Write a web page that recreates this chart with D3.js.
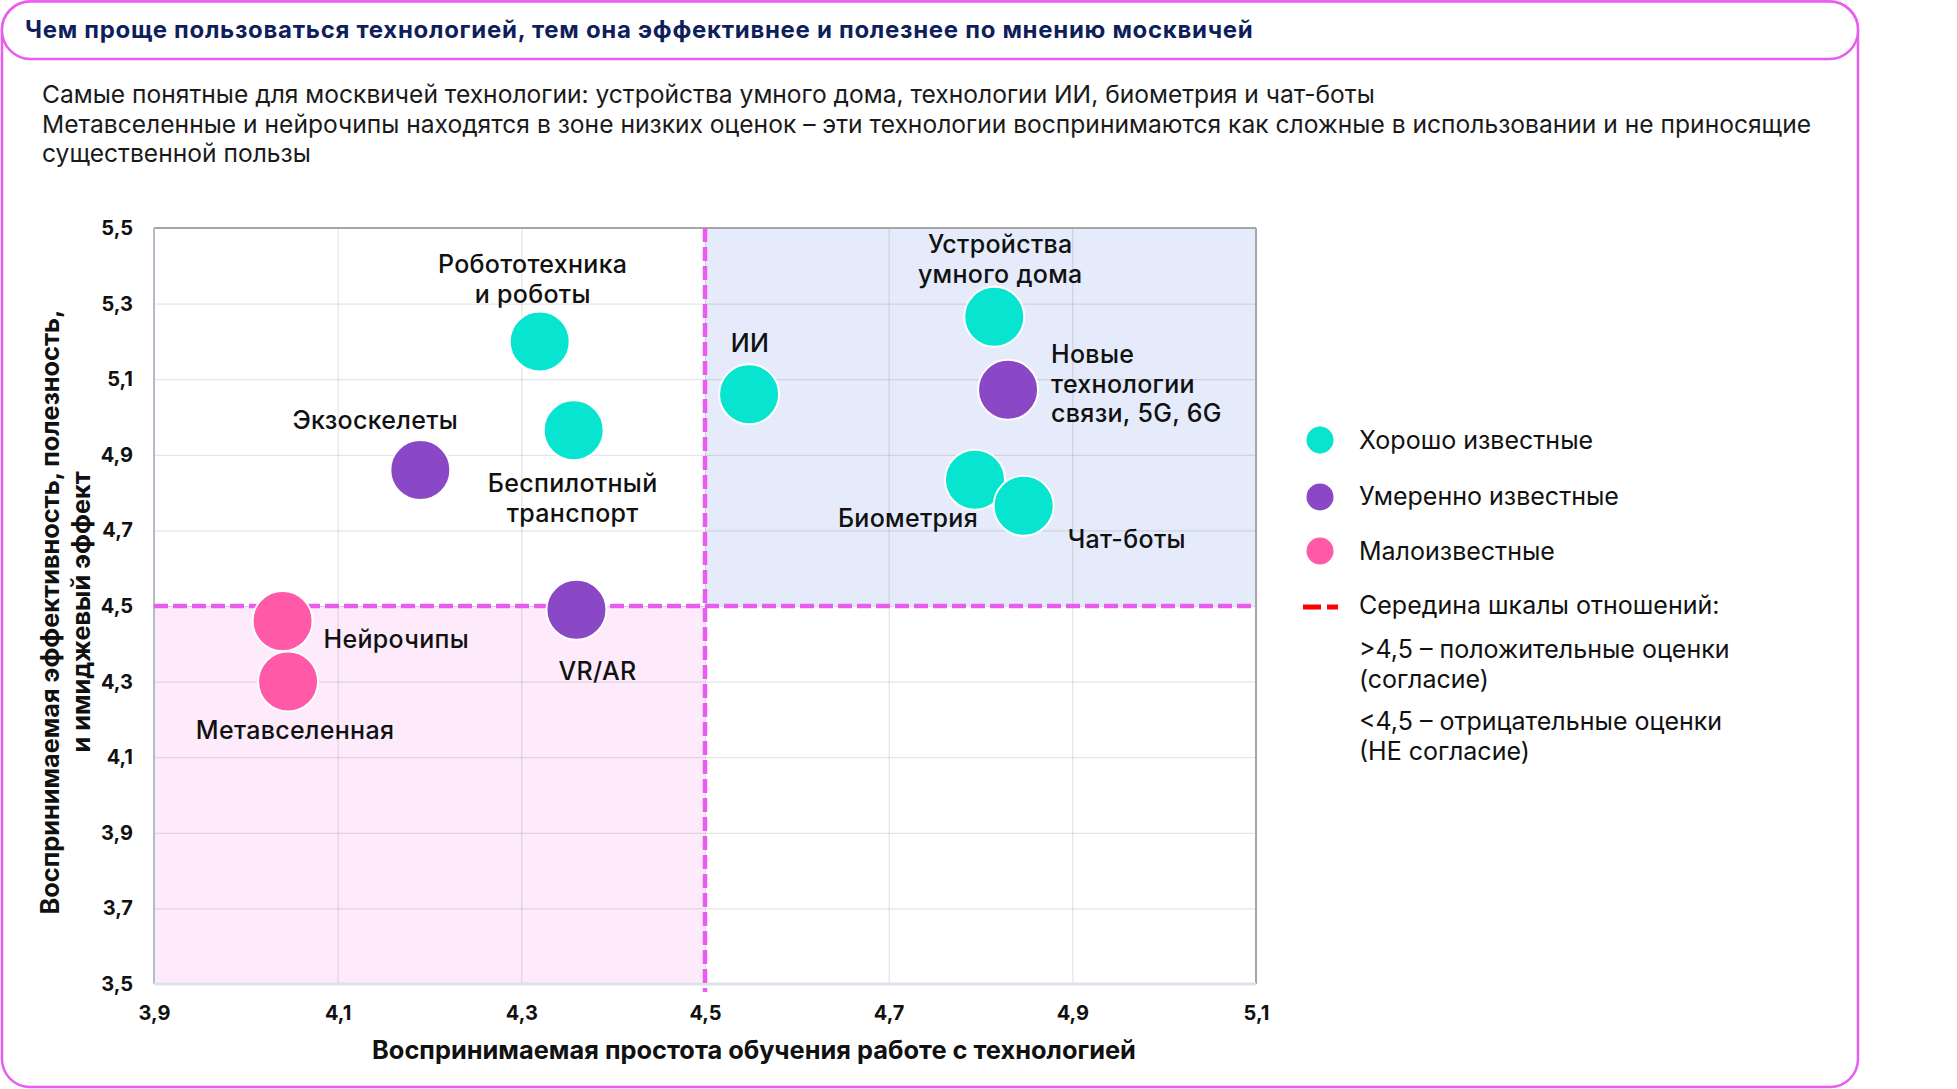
<!DOCTYPE html>
<html lang="ru">
<head>
<meta charset="utf-8">
<title>Простота и эффективность технологий</title>
<script src="https://cdn.jsdelivr.net/npm/d3@7"></script>
<style>
    body { margin: 0; background: #fff; }
    svg text { font-family: Inter, "Noto Sans", sans-serif; }
</style>
</head>
<body>
<div id="chart"></div>
<script>
// ---- data ----
const titleText = "Чем проще пользоваться технологией, тем она эффективнее и полезнее по мнению москвичей";
const subtitleLines = [
    "Самые понятные для москвичей технологии: устройства умного дома, технологии ИИ, биометрия и чат-боты",
    "Метавселенные и нейрочипы находятся в зоне низких оценок – эти технологии воспринимаются как сложные в использовании и не приносящие",
    "существенной пользы"
];

const techNames = ["Робототехника и роботы", "Беспилотный транспорт", "Экзоскелеты", "VR/AR", "Нейрочипы",
    "Метавселенная", "ИИ", "Устройства умного дома", "Новые технологии связи, 5G, 6G", "Биометрия", "Чат-боты"];
const techLabelLines = [["Робототехника", "и роботы"], ["Беспилотный", "транспорт"], ["Экзоскелеты"], ["VR/AR"], ["Нейрочипы"],
    ["Метавселенная"], ["ИИ"], ["Устройства", "умного дома"], ["Новые", "технологии", "связи, 5G, 6G"], ["Биометрия"], ["Чат-боты"]];
const easeScores   = [4.32, 4.357, 4.19, 4.36, 4.04, 4.046, 4.548, 4.815, 4.83, 4.794, 4.847];
const effectScores = [5.20, 4.965, 4.86, 4.49, 4.46, 4.30, 5.06, 5.265, 5.072, 4.834, 4.765];
const awareness    = [0, 0, 1, 1, 2, 2, 0, 0, 1, 0, 0];   // index into groupNames

const groupNames = ["Хорошо известные", "Умеренно известные", "Малоизвестные"];
const midpoint = 4.5;
const legendNotes = ["Середина шкалы отношений:", ">4,5 – положительные оценки", "(согласие)",
    "<4,5 – отрицательные оценки", "(НЕ согласие)"];

const xTicks = [3.9, 4.1, 4.3, 4.5, 4.7, 4.9, 5.1];
const yTicks = [3.5, 3.7, 3.9, 4.1, 4.3, 4.5, 4.7, 4.9, 5.1, 5.3, 5.5];
const xTitle = "Воспринимаемая простота обучения работе с технологией";
const yTitleLines = ["Воспринимаемая эффективность, полезность,", "и имиджевый эффект"];

class QuadrantChart {
    constructor(parentElement) {
        this.parentElement = parentElement;
        this.data = techNames.map((name, i) => ({
            name: name,
            lines: techLabelLines[i],
            ease: easeScores[i],
            effect: effectScores[i],
            group: awareness[i]
        }));
        this.initVis();
    }

    initVis() {
        let vis = this;

        vis.width = 1957;
        vis.height = 1089;
        vis.margin = {top: 228, right: 701, bottom: 105, left: 154};
        vis.plotW = vis.width - vis.margin.left - vis.margin.right;
        vis.plotH = vis.height - vis.margin.top - vis.margin.bottom;

        vis.colours = d3.scaleOrdinal().domain([0, 1, 2]).range(["#07e5d0", "#8a47c6", "#ff59a7"]);
        vis.pink = "#ea5cf0";

        vis.svg = d3.select(vis.parentElement).append("svg")
            .attr("width", vis.width)
            .attr("height", vis.height);

        vis.drawFrame();

        vis.g = vis.svg.append("g")
            .attr("transform", `translate(${vis.margin.left},${vis.margin.top})`);

        vis.x = d3.scaleLinear().domain([3.9, 5.1]).range([0, vis.plotW]);
        vis.y = d3.scaleLinear().domain([3.5, 5.5]).range([vis.plotH, 0]);

        vis.updateVis();
        vis.drawLegend();
    }

    drawFrame() {
        let vis = this;

        vis.svg.append("rect")
            .attr("x", 2).attr("y", 1.5)
            .attr("width", 1856).attr("height", 1085.5)
            .attr("rx", 28)
            .attr("fill", "none")
            .attr("stroke", vis.pink)
            .attr("stroke-width", 2.5);

        vis.svg.append("rect")
            .attr("x", 2).attr("y", 1.5)
            .attr("width", 1856).attr("height", 57.5)
            .attr("rx", 28.5)
            .attr("fill", "#fff")
            .attr("stroke", vis.pink)
            .attr("stroke-width", 2.5);

        vis.svg.append("text")
            .attr("x", 25).attr("y", 38)
            .attr("font-size", 24)
            .attr("font-weight", 700)
            .attr("letter-spacing", 0.7)
            .attr("fill", "#0f1f5c")
            .text(titleText);

        vis.svg.append("g")
            .selectAll("text")
            .data(subtitleLines)
            .join("text")
            .attr("x", 42)
            .attr("y", (d, i) => 103 + i * 29.5)
            .attr("font-size", 24.6)
            .attr("fill", "#1a1a1a")
            .text(d => d);
    }

    updateVis() {
        let vis = this;

        // quadrant shading
        vis.g.append("rect")
            .attr("x", vis.x(midpoint)).attr("y", vis.y(5.5))
            .attr("width", vis.x(5.1) - vis.x(midpoint))
            .attr("height", vis.y(midpoint) - vis.y(5.5))
            .attr("fill", "#e5ebfa");
        vis.g.append("rect")
            .attr("x", vis.x(3.9)).attr("y", vis.y(midpoint))
            .attr("width", vis.x(midpoint) - vis.x(3.9))
            .attr("height", vis.y(3.5) - vis.y(midpoint))
            .attr("fill", "#fdebfc");

        // grid + tick labels
        const fmt = d => d3.format(".1f")(d).replace(".", ",");

        vis.g.append("g")
            .call(d3.axisLeft(vis.y).tickValues(yTicks).tickSize(-vis.plotW).tickPadding(21).tickFormat(fmt))
            .call(g => g.select(".domain").remove())
            .call(g => g.selectAll("line").attr("stroke", "rgba(0,0,0,0.13)"))
            .call(g => g.selectAll("text")
                .attr("font-family", "'Liberation Sans', Arial, sans-serif")
                .attr("font-weight", 700).attr("font-size", 20).attr("fill", "#111"));

        vis.g.append("g")
            .attr("transform", `translate(0,${vis.plotH})`)
            .call(d3.axisBottom(vis.x).tickValues(xTicks).tickSize(-vis.plotH).tickPadding(22).tickFormat(fmt))
            .call(g => g.select(".domain").remove())
            .call(g => g.selectAll("line").attr("stroke", "rgba(0,0,0,0.13)"))
            .call(g => g.selectAll("text")
                .attr("font-family", "'Liberation Sans', Arial, sans-serif")
                .attr("font-weight", 700).attr("font-size", 20).attr("fill", "#111"));

        // plot border
        const border = [
            {x1: 0, y1: 0, x2: vis.plotW, y2: 0, c: "#a6a6a6", w: 2},
            {x1: vis.plotW, y1: 0, x2: vis.plotW, y2: vis.plotH, c: "#a6a6a6", w: 2},
            {x1: 0, y1: 0, x2: 0, y2: vis.plotH, c: "#b3bccb", w: 2},
            {x1: 0, y1: vis.plotH, x2: vis.plotW, y2: vis.plotH, c: "#dde2ea", w: 3}
        ];
        vis.g.append("g").selectAll("line")
            .data(border)
            .join("line")
            .attr("x1", d => d.x1).attr("y1", d => d.y1)
            .attr("x2", d => d.x2).attr("y2", d => d.y2)
            .attr("stroke", d => d.c)
            .attr("stroke-width", d => d.w);

        // midpoint dashed lines
        vis.g.append("line")
            .attr("x1", vis.x(3.9)).attr("x2", vis.x(5.1))
            .attr("y1", vis.y(midpoint)).attr("y2", vis.y(midpoint))
            .attr("stroke", vis.pink).attr("stroke-width", 4.5)
            .attr("stroke-dasharray", "14,5");
        vis.g.append("line")
            .attr("x1", vis.x(midpoint)).attr("x2", vis.x(midpoint))
            .attr("y1", vis.y(5.5)).attr("y2", vis.plotH + 8)
            .attr("stroke", vis.pink).attr("stroke-width", 4.5)
            .attr("stroke-dasharray", "14,5");

        // bubbles
        vis.g.append("g")
            .selectAll("circle")
            .data(vis.data)
            .join("circle")
            .attr("cx", d => vis.x(d.ease))
            .attr("cy", d => vis.y(d.effect))
            .attr("r", 30)
            .attr("fill", d => vis.colours(d.group))
            .attr("stroke", "white")
            .attr("stroke-width", 2);

        // labels: anchor and offset from bubble centre
        const labelPlace = {
            "Робототехника и роботы": ["middle", -7, -68],
            "Беспилотный транспорт": ["middle", -1, 62],
            "Экзоскелеты": ["middle", -45, -41],
            "VR/AR": ["middle", 21, 70],
            "Нейрочипы": ["start", 41, 27],
            "Метавселенная": ["middle", 7, 57],
            "ИИ": ["middle", 1, -42],
            "Устройства умного дома": ["middle", 6, -64],
            "Новые технологии связи, 5G, 6G": ["start", 43, -27],
            "Биометрия": ["middle", -67, 47],
            "Чат-боты": ["start", 44, 42]
        };

        vis.g.append("g")
            .selectAll("text")
            .data(vis.data)
            .join("text")
            .attr("text-anchor", d => labelPlace[d.name][0])
            .attr("font-size", 25)
            .attr("font-weight", 500)
            .attr("letter-spacing", 0.3)
            .attr("fill", "#111")
            .each(function (d) {
                const p = labelPlace[d.name];
                d3.select(this).selectAll("tspan")
                    .data(d.lines)
                    .join("tspan")
                    .attr("x", vis.x(d.ease) + p[1])
                    .attr("y", (l, i) => vis.y(d.effect) + p[2] + i * 29.8)
                    .text(l => l);
            });

        // axis titles
        vis.svg.append("text")
            .attr("x", 754)
            .attr("y", 1059)
            .attr("text-anchor", "middle")
            .attr("font-size", 25.4)
            .attr("font-weight", 700)
            .attr("fill", "#111")
            .text(xTitle);

        vis.svg.append("g")
            .attr("transform", "translate(0,612) rotate(-90)")
            .selectAll("text")
            .data(yTitleLines)
            .join("text")
            .attr("x", 0)
            .attr("y", (d, i) => 59 + i * 30.5)
            .attr("text-anchor", "middle")
            .attr("font-size", 25.3)
            .attr("font-weight", 700)
            .attr("fill", "#111")
            .text(d => d);
    }

    drawLegend() {
        let vis = this;

        const lg = vis.svg.append("g").attr("transform", "translate(1320,440)");

        lg.selectAll("circle")
            .data(groupNames)
            .join("circle")
            .attr("cx", 0)
            .attr("cy", (d, i) => [0, 57, 111][i])
            .attr("r", 13.5)
            .attr("fill", (d, i) => vis.colours(i));

        lg.selectAll("text.group")
            .data(groupNames)
            .join("text")
            .attr("class", "group")
            .attr("x", 39)
            .attr("y", (d, i) => [9, 64.5, 120][i])
            .attr("font-size", 25)
            .attr("fill", "#111")
            .text(d => d);

        lg.append("line")
            .attr("x1", -17).attr("x2", 18)
            .attr("y1", 167).attr("y2", 167)
            .attr("stroke", "#ff0000")
            .attr("stroke-width", 5)
            .attr("stroke-dasharray", "18,6");

        lg.selectAll("text.note")
            .data(legendNotes)
            .join("text")
            .attr("class", "note")
            .attr("x", 39)
            .attr("y", (d, i) => [174, 218, 248, 290, 320][i])
            .attr("font-size", 25)
            .attr("fill", "#111")
            .text(d => d);
    }
}

new QuadrantChart(document.getElementById("chart"));
</script>
</body>
</html>
